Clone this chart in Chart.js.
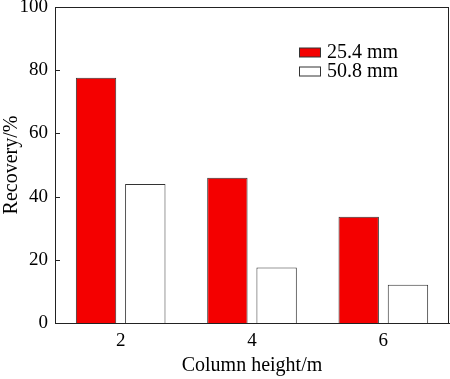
<!DOCTYPE html>
<html>
<head>
<meta charset="utf-8">
<script src="https://cdn.jsdelivr.net/npm/chart.js@4"></script>
<style>
  html, body { margin: 0; padding: 0; background: #fff; }
  #wrap { width: 450px; height: 379px; }
</style>
</head>
<body>
<div id="wrap"><canvas id="chart"></canvas></div>
<script>
// Data
const heights   = ['2', '4', '6'];
const small     = [77.6, 46.0, 33.6];   // 25.4 mm
const large     = [44.0, 17.6, 12.1];   // 50.8 mm
const yTicks    = [0, 20, 40, 60, 80, 100];

const SERIF = '"Liberation Serif", "Times New Roman", serif';
const INK   = '#222';

// frame, inward ticks on the y axis, and the legend inside the plot
const framePlugin = {
  id: 'frame',
  afterDraw(chart) {
    const { ctx, chartArea: a, scales } = chart;
    ctx.save();
    ctx.strokeStyle = INK;
    ctx.lineWidth = 1;
    ctx.strokeRect(a.left + 0.5, a.top + 0.5, a.right - a.left - 1, a.bottom - a.top);

    // inward tick marks
    ctx.beginPath();
    scales.y.ticks.forEach(t => {
      const y = Math.round(scales.y.getPixelForValue(t.value)) + 0.5;
      ctx.moveTo(a.left, y);
      ctx.lineTo(a.left + 5, y);
    });
    ctx.stroke();

    // legend
    ctx.font = '20px ' + SERIF;
    ctx.textBaseline = 'middle';
    chart.data.datasets.forEach((ds, i) => {
      const y = 52.5 + i * 19;
      ctx.fillStyle = ds.backgroundColor;
      ctx.fillRect(299.5, y - 4.5, 21, 9);
      ctx.strokeStyle = '#333';
      ctx.strokeRect(299.5, y - 4.5, 21, 9);
      ctx.fillStyle = '#000';
      ctx.fillText(ds.label, 327, y);
    });
    ctx.restore();
  }
};

new Chart(document.getElementById('chart'), {
  type: 'bar',
  data: {
    labels: heights,
    datasets: [
      {
        label: '25.4 mm',
        data: small,
        backgroundColor: '#f40000',
        borderColor: '#333',
        borderWidth: 1,
        barPercentage: 0.82,
        categoryPercentage: 0.75,
      },
      {
        label: '50.8 mm',
        data: large,
        backgroundColor: '#ffffff',
        borderColor: '#333',
        borderWidth: 1,
        barPercentage: 0.82,
        categoryPercentage: 0.75,
      },
    ],
  },
  options: {
    responsive: true,
    maintainAspectRatio: false,
    animation: false,
    layout: { padding: { top: 7, right: 1, left: 0, bottom: 0 } },
    plugins: {
      legend: { display: false },
      tooltip: { enabled: false },
    },
    scales: {
      x: {
        grid: { display: false, drawTicks: false },
        border: { display: true, color: INK, width: 1 },
        ticks: { color: '#000', font: { family: SERIF, size: 19 }, padding: 7 },
        title: {
          display: true,
          text: 'Column height/m',
          color: '#000',
          font: { family: SERIF, size: 20 },
          padding: { top: 0, bottom: 1 },
        },
        afterFit: s => { s.height = 56; },
      },
      y: {
        min: 0,
        max: 100,
        afterBuildTicks: s => { s.ticks = yTicks.map(v => ({ value: v })); },
        grid: { display: false, drawTicks: false },
        border: { display: true, color: INK, width: 1 },
        ticks: { color: '#000', font: { family: SERIF, size: 19 }, padding: 7 },
        title: {
          display: true,
          text: 'Recovery/%',
          color: '#000',
          font: { family: SERIF, size: 20 },
          padding: { top: 0, bottom: 2 },
        },
        afterFit: s => { s.width = 55; s.paddingTop = 0; s.paddingBottom = 0; },
      },
    },
  },
  plugins: [framePlugin],
});
</script>
</body>
</html>
